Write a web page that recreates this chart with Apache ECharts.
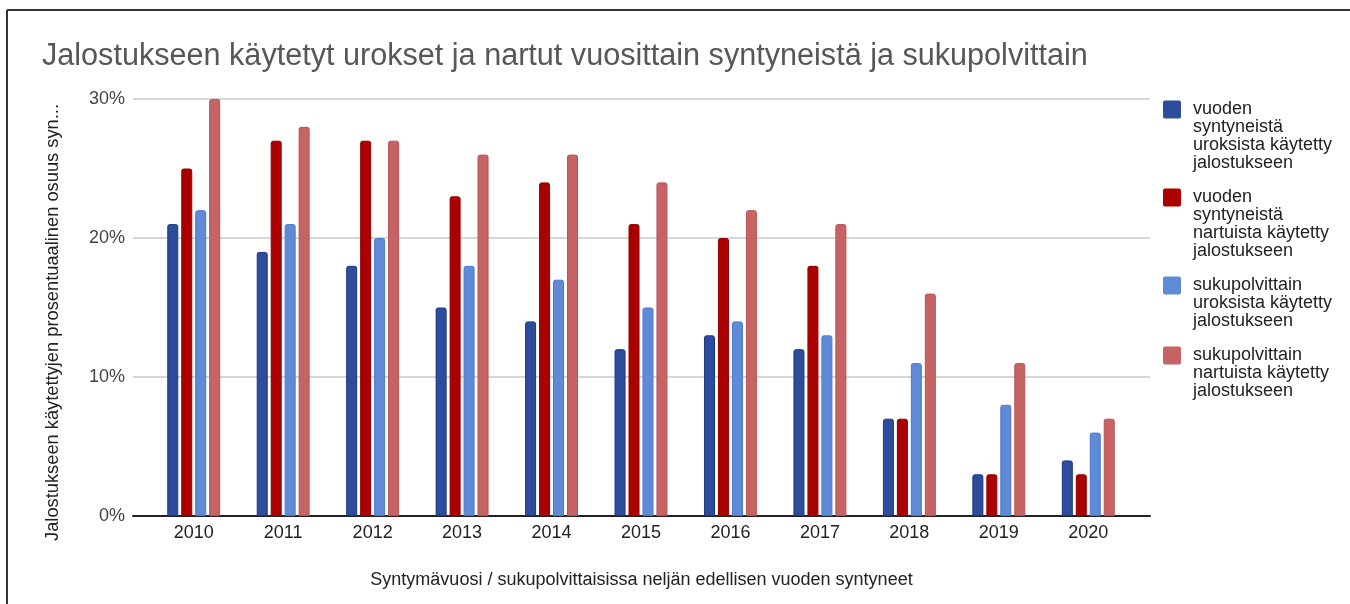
<!DOCTYPE html>
<html>
<head>
<meta charset="utf-8">
<script src="https://cdn.jsdelivr.net/npm/echarts@6/dist/echarts.min.js"></script>
<style>
  html, body { margin: 0; padding: 0; background: #fff; }
  #chart { width: 1350px; height: 604px; }
</style>
</head>
<body>
<div id="chart"></div>
<script>
// data (percent)
var years = ['2010', '2011', '2012', '2013', '2014', '2015', '2016', '2017', '2018', '2019', '2020']
var urokset = [21, 19, 18, 15, 14, 12, 13, 12, 7, 3, 4]
var nartut = [25, 27, 27, 23, 24, 21, 20, 18, 7, 3, 3]
var sukUrokset = [22, 21, 20, 18, 17, 15, 14, 13, 11, 8, 6]
var sukNartut = [30, 28, 27, 26, 26, 24, 22, 21, 16, 11, 7]
var yTicks = [0, 10, 20, 30]

var names = [
  'vuoden syntyneistä uroksista käytetty jalostukseen',
  'vuoden syntyneistä nartuista käytetty jalostukseen',
  'sukupolvittain uroksista käytetty jalostukseen',
  'sukupolvittain nartuista käytetty jalostukseen'
]
// how the legend breaks the lines
var legendLines = [
  ['vuoden', 'syntyneistä', 'uroksista käytetty', 'jalostukseen'],
  ['vuoden', 'syntyneistä', 'nartuista käytetty', 'jalostukseen'],
  ['sukupolvittain', 'uroksista käytetty', 'jalostukseen'],
  ['sukupolvittain', 'nartuista käytetty', 'jalostukseen']
]
var colors = ['#2d4c9c', '#ab0000', '#5f8ad6', '#c66364']
var borders = ['#1c3683', '#950000', '#4b78cf', '#b95253']
var values = [urokset, nartut, sukUrokset, sukNartut]

var font = "'Liberation Sans', Arial, sans-serif"
var lineH = 18
var legendTops = [100, 188, 276, 346]

var myChart = echarts.init(document.getElementById('chart'))

var series = values.map(function (v, i) {
  return {
    name: names[i],
    type: 'bar',
    xAxisIndex: 1,
    yAxisIndex: 1,
    data: v,
    barWidth: 11,
    barGap: '27%',
    itemStyle: {
      color: colors[i],
      borderColor: borders[i],
      borderWidth: 1,
      borderRadius: [2, 2, 0, 0]
    }
  }
})

// one legend per series so every icon sits at the top of its text block
var legends = names.map(function (n, i) {
  var h = legendLines[i].length * lineH
  return {
    orient: 'vertical',
    left: 1163,
    top: legendTops[i],
    padding: 0,
    selectedMode: false,
    data: [n],
    itemWidth: 18,
    itemHeight: h,
    icon: 'path://M2,0h14q2,0 2,2v14q0,2 -2,2h-14q-2,0 -2,-2v-14q0,-2 2,-2z M0,' + h,
    itemStyle: { borderWidth: 0 },
    formatter: function () { return legendLines[i].join('\n') },
    textStyle: {
      fontFamily: font,
      fontSize: 18,
      lineHeight: lineH,
      color: '#222',
      padding: [1, 0, 0, 7]
    }
  }
})

var option = {
  animation: false,
  backgroundColor: '#fff',
  title: {
    text: 'Jalostukseen käytetyt urokset ja nartut vuosittain syntyneistä ja sukupolvittain',
    left: 42,
    top: 41,
    padding: 0,
    textStyle: { fontFamily: font, fontSize: 30.6, fontWeight: 'normal', color: '#575757' }
  },
  legend: legends,
  grid: [
    { left: 133, top: 99, right: 200, bottom: 88 },
    { left: 149, top: 99, right: 217, bottom: 88 }
  ],
  xAxis: [
    {
      type: 'category',
      gridIndex: 0,
      data: years,
      axisLine: { lineStyle: { color: '#222', width: 2 } },
      axisTick: { show: false },
      axisLabel: { show: false },
      name: 'Syntymävuosi / sukupolvittaisissa neljän edellisen vuoden syntyneet',
      nameLocation: 'middle',
      nameGap: 55,
      nameTextStyle: { fontFamily: font, fontSize: 18, color: '#222' }
    },
    {
      type: 'category',
      gridIndex: 1,
      data: years,
      axisLine: { show: false },
      axisTick: { show: false },
      axisLabel: { fontFamily: font, fontSize: 18, color: '#222', margin: 8 }
    }
  ],
  yAxis: [
    {
      type: 'value',
      gridIndex: 0,
      min: yTicks[0],
      max: yTicks[yTicks.length - 1],
      interval: 10,
      axisLine: { show: false },
      axisTick: { show: false },
      axisLabel: { fontFamily: font, fontSize: 18, color: '#444', margin: 8, formatter: '{value}%' },
      splitLine: { lineStyle: { color: '#c8c8c8', width: 1.5 } },
      name: 'Jalostukseen käytettyjen prosentuaalinen osuus syn...',
      nameLocation: 'middle',
      nameRotate: 90,
      nameGap: 71,
      nameTextStyle: { fontFamily: font, fontSize: 18.3, color: '#222', padding: [0, 30, 0, 0] }
    },
    {
      type: 'value',
      gridIndex: 1,
      min: yTicks[0],
      max: yTicks[yTicks.length - 1],
      show: false,
      splitLine: { show: false }
    }
  ],
  graphic: [
    { type: 'line', shape: { x1: 7, y1: 10, x2: 1350, y2: 10 }, style: { stroke: '#333', lineWidth: 2 } },
    { type: 'line', shape: { x1: 7, y1: 10, x2: 7, y2: 604 }, style: { stroke: '#333', lineWidth: 2 } }
  ],
  series: series
}

myChart.setOption(option)
</script>
</body>
</html>
